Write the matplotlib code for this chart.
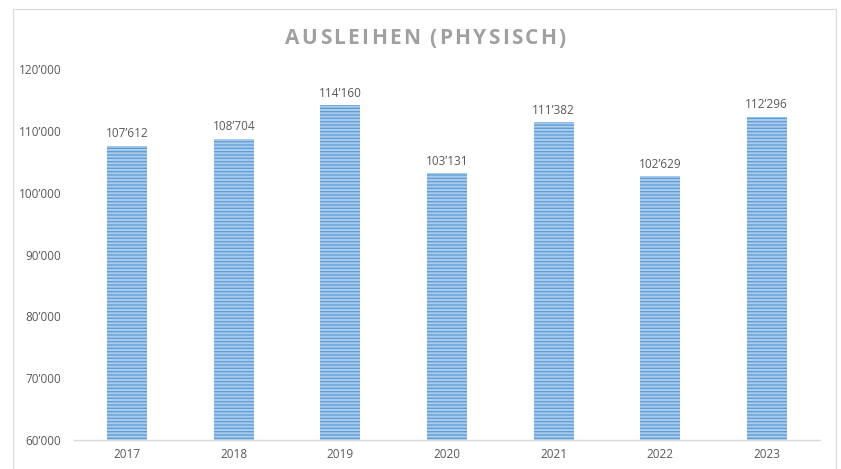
import matplotlib
matplotlib.use("Agg")
from matplotlib import pyplot as plt
from matplotlib.patches import Rectangle
from matplotlib.ticker import FuncFormatter

years = ["2017", "2018", "2019", "2020", "2021", "2022", "2023"]
ausleihen = [107612, 108704, 114160, 103131, 111382, 102629, 112296]
y_ticks = [60000, 70000, 80000, 90000, 100000, 110000, 120000]
title = "AUSLEIHEN (PHYSISCH)"


def swiss(v):
    s = f"{int(round(v)):,}"
    return s.replace(",", "\u2019")


plt.rcParams["font.family"] = ["Open Sans", "DejaVu Sans"]
plt.rcParams["hatch.linewidth"] = 0.9

fig = plt.figure(figsize=(8.41, 4.69), dpi=100)
# Rahmen um das Diagramm
fig.patches.append(Rectangle((13 / 841, -0.01), 823 / 841, 1 - 9 / 469 + 0.01,
                             transform=fig.transFigure, fill=False,
                             edgecolor="#D9D9D9", linewidth=0.8))

ax = fig.add_axes([74 / 841, 1 - 440 / 469, 746 / 841, (440 - 69) / 469])

x = range(len(years))
bars = ax.bar(x, [v - 60000 for v in ausleihen], bottom=60000, width=0.375,
              color="#A9CBEB", edgecolor="#5B9BD5", hatch="-----", linewidth=0)

for xi, v in zip(x, ausleihen):
    ax.text(xi, v + 900, swiss(v), ha="center", va="bottom",
            fontsize=8.5, color="#595959")

ax.set_xlim(-0.5, len(years) - 0.5)
ax.set_ylim(60000, 120000)
ax.set_yticks(y_ticks)
ax.yaxis.set_major_formatter(FuncFormatter(lambda v, p: swiss(v)))
ax.set_xticks(list(x))
ax.set_xticklabels(years)

for side in ["top", "right", "left"]:
    ax.spines[side].set_visible(False)
ax.spines["bottom"].set_color("#D9D9D9")
ax.spines["bottom"].set_linewidth(1.0)

ax.tick_params(axis="both", length=0, labelsize=8.5, colors="#595959")
ax.tick_params(axis="y", pad=9)
ax.tick_params(axis="x", pad=6)

# Titel mit Zeichenabstand, Buchstabe fuer Buchstabe gesetzt
renderer = fig.canvas.get_renderer()
tracking = 2.3
pieces = []
total = 0
for ch in title:
    t = fig.text(0, 0, ch, fontsize=15, fontweight="bold", color="#A0A0A0",
                 va="center", ha="left")
    w = t.get_window_extent(renderer).width
    if ch == " ":
        w = 5
    pieces.append((t, w))
    total += w + tracking
total -= tracking
px = 425.5 - total / 2
for t, w in pieces:
    t.set_position((px / 841, 1 - 38 / 469))
    px += w + tracking

fig.savefig("out.png", dpi=100)
